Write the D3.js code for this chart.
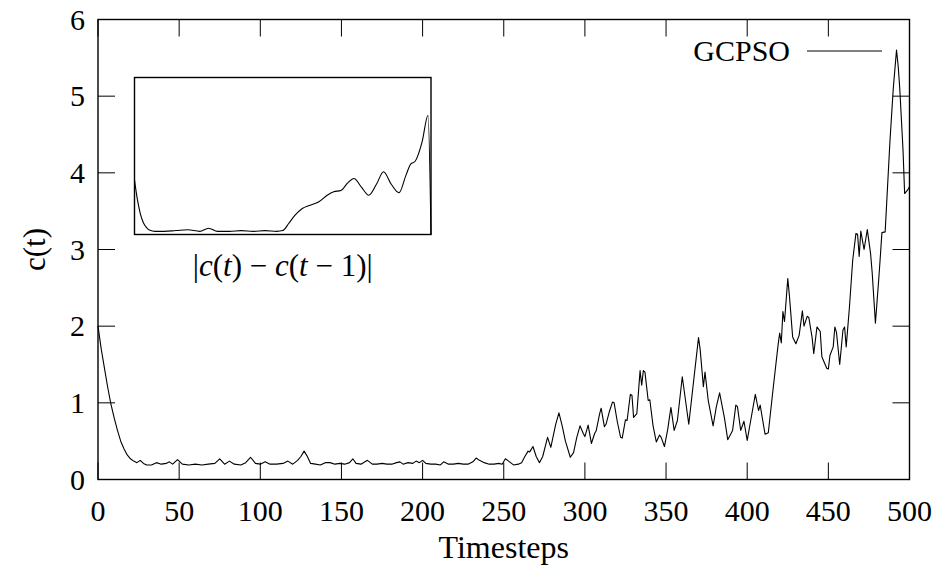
<!DOCTYPE html>
<html>
<head>
<meta charset="utf-8">
<script src="https://cdn.jsdelivr.net/npm/d3@7/dist/d3.min.js"></script>
<style>
  body { margin: 0; background: #fff; }
  text { font-family: "Liberation Serif", "DejaVu Serif", serif; fill: #000; }
</style>
</head>
<body>
<div id="chart"></div>
<script>
// Datos de la curva principal (timestep, c(t))
var steps = [0,2,4,6,8,10,12,14,16,18,20,22,24,26,28,30,33,36,39,42,44,46,49,52,56,60,64,68,72,75,78,81,84,88,91,94,97,100,
  103,106,110,114,117,120,123,125,127,129,131,134,137,140,143,146,149,152,155,157,159,162,166,169,172,175,178,181,184,186,188,
  191,194,196,198,200,202,205,208,211,213,216,219,222,225,228,231,233,235,238,241,244,247,249,251,253,256,259,261,263,265,266,
  268,270,272,274,277,279,282,284,286,288,291,293,295,297,299,300,302,304,306,307,309,310,312,313,315,317,318,320,322,323,325,
  326,328,329,330,332,334,335,336,337,339,340,342,344,346,347,349,351,353,355,357,360,364,370,371,373,374,376,379,381,383,386,
  388,391,393,394,396,398,400,402,405,407,408,411,413,416,419,420,421,422,423,425,426,428,430,432,434,435,437,438,440,441,443,
  445,446,449,450,451,453,454,455,457,459,460,461,463,465,467,468,469,470,472,474,476,477,479,481,482,483,485,488,490,492,493,
  494,496,497,499,500];
var gcpso = [2.0,1.7,1.45,1.2,0.98,0.8,0.64,0.5,0.4,0.32,0.27,0.24,0.22,0.25,0.21,0.19,0.19,0.22,0.2,0.21,0.23,0.2,0.26,0.2,
  0.19,0.2,0.19,0.2,0.21,0.27,0.2,0.24,0.2,0.19,0.22,0.29,0.21,0.2,
  0.23,0.2,0.2,0.21,0.24,0.2,0.25,0.3,0.37,0.3,0.21,0.2,0.19,0.22,0.22,0.2,0.21,0.2,0.22,0.27,0.21,0.2,0.25,0.2,0.2,0.21,0.2,
  0.2,0.22,0.23,0.2,
  0.22,0.21,0.24,0.22,0.25,0.21,0.2,0.2,0.19,0.23,0.2,0.2,0.21,0.2,0.2,0.23,0.28,0.25,0.22,0.2,0.2,0.21,0.2,0.27,0.24,0.19,0.2,
  0.22,0.3,0.37,0.36,
  0.43,0.3,0.22,0.3,0.55,0.42,0.72,0.87,0.7,0.5,0.29,0.35,0.55,0.7,0.6,0.56,0.71,0.47,0.6,0.64,0.85,0.93,0.69,0.72,0.88,1.01,
  1.0,0.75,0.55,0.54,0.78,
  0.77,1.11,1.1,0.81,0.86,1.42,1.23,1.42,1.4,1.03,1.04,0.7,0.49,0.58,0.55,0.43,0.65,0.94,0.64,0.77,1.34,0.72,1.85,1.7,1.21,1.4,
  1.03,0.7,0.95,1.13,0.8,
  0.52,0.64,0.97,0.95,0.64,0.76,0.51,0.75,1.11,0.9,0.97,0.59,0.61,1.19,1.75,1.91,1.78,2.19,2.06,2.62,2.4,1.86,1.77,1.88,2.2,
  2.0,2.13,2.11,1.85,1.64,1.99,
  1.93,1.6,1.45,1.44,1.62,1.73,1.99,1.92,1.5,1.95,1.99,1.73,2.25,2.86,3.21,3.2,2.91,3.24,3.0,3.26,2.95,2.7,2.04,2.6,2.9,3.22,
  3.23,4.43,5.1,5.6,5.4,
  5.1,4.3,3.73,3.78,3.82];

// Recuadro interior: |c(t) - c(t-1)| suavizado (escala relativa)
var insetSteps = [0,5,10,15,20,25,35,50,70,90,110,125,140,160,180,200,220,240,250,260,270,283,295,311,325,336,348,360,370,
  383,395,408,420,433,446,458,466,473,485,495,500];
var insetDiff = [0.346,0.22,0.13,0.075,0.045,0.028,0.02,0.02,0.025,0.03,0.02,0.04,0.02,0.02,0.025,0.02,0.025,0.02,0.025,0.07,
  0.12,0.166,0.185,0.208,0.25,0.272,0.28,0.33,0.357,0.3,0.25,0.32,0.40,0.32,0.266,0.38,0.45,0.465,0.59,0.76,0.0];

var xTicks = [0,50,100,150,200,250,300,350,400,450,500];
var yTicks = [0,1,2,3,4,5,6];
var seriesName = "GCPSO";

var W = 940, H = 570;
var margin = { top: 19.5, right: 30.5, bottom: 90.5, left: 98 };
var fontSize = 30, tickLen = 17;

var svg = d3.select("#chart").append("svg")
    .attr("width", W).attr("height", H);

var x = d3.scaleLinear().domain([0, 500]).range([margin.left, W - margin.right]);
var y = d3.scaleLinear().domain([0, 6]).range([H - margin.bottom, margin.top]);

// Ticks hacia adentro en los cuatro lados
var g = svg.append("g");
xTicks.forEach(function(t) {
  g.append("line").attr("x1", x(t)).attr("x2", x(t))
    .attr("y1", y(0)).attr("y2", y(0) - tickLen).attr("stroke", "#000").attr("stroke-width", 1);
  g.append("line").attr("x1", x(t)).attr("x2", x(t))
    .attr("y1", y(6)).attr("y2", y(6) + tickLen).attr("stroke", "#000").attr("stroke-width", 1);
  g.append("text").attr("x", x(t)).attr("y", y(0) + 41)
    .attr("text-anchor", "middle").style("font-size", fontSize + "px").text(t);
});
yTicks.forEach(function(v) {
  g.append("line").attr("x1", x(0)).attr("x2", x(0) + tickLen)
    .attr("y1", y(v)).attr("y2", y(v)).attr("stroke", "#000").attr("stroke-width", 1);
  g.append("line").attr("x1", x(500)).attr("x2", x(500) - tickLen)
    .attr("y1", y(v)).attr("y2", y(v)).attr("stroke", "#000").attr("stroke-width", 1);
  g.append("text").attr("x", x(0) - 13).attr("y", y(v) + 10)
    .attr("text-anchor", "end").style("font-size", fontSize + "px").text(v);
});

// Curva principal
var line = d3.line()
  .x(function(d, i) { return x(steps[i]); })
  .y(function(d) { return y(d); });
svg.append("path").datum(gcpso)
  .attr("d", line)
  .attr("fill", "none").attr("stroke", "#000").attr("stroke-width", 1.1)
  .attr("stroke-linejoin", "round");

// Marco
svg.append("rect")
  .attr("x", x(0)).attr("y", y(6))
  .attr("width", x(500) - x(0)).attr("height", y(0) - y(6))
  .attr("fill", "none").attr("stroke", "#000").attr("stroke-width", 1.4);

// Etiquetas de ejes
svg.append("text").attr("x", (x(0) + x(500)) / 2).attr("y", 558)
  .attr("text-anchor", "middle").style("font-size", "32px").text("Timesteps");
svg.append("text")
  .attr("transform", "translate(45," + ((y(0) + y(6)) / 2) + ") rotate(-90)")
  .attr("text-anchor", "middle").style("font-size", "31px").text("c(t)");

// Leyenda
var legY = 51;
svg.append("text").attr("x", 790).attr("y", legY + 10)
  .attr("text-anchor", "end").style("font-size", fontSize + "px").text(seriesName);
svg.append("line").attr("x1", 807).attr("x2", 882).attr("y1", legY).attr("y2", legY)
  .attr("stroke", "#000").attr("stroke-width", 1.1);

// Recuadro interior
var inset = { left: 134.5, right: 431, top: 77.5, bottom: 234.5 };
var xi = d3.scaleLinear().domain([0, 500]).range([inset.left, inset.right]);
var yi = d3.scaleLinear().domain([0, 1]).range([inset.bottom, inset.top]);
svg.append("rect")
  .attr("x", inset.left).attr("y", inset.top)
  .attr("width", inset.right - inset.left).attr("height", inset.bottom - inset.top)
  .attr("fill", "#fff").attr("stroke", "#000").attr("stroke-width", 1.4);
var lineInset = d3.line()
  .x(function(d, i) { return xi(insetSteps[i]); })
  .y(function(d) { return yi(d); })
  .curve(d3.curveMonotoneX);
svg.append("path").datum(insetDiff)
  .attr("d", lineInset)
  .attr("fill", "none").attr("stroke", "#000").attr("stroke-width", 1.1);

// Etiqueta matematica |c(t) − c(t − 1)|
var lab = svg.append("text").attr("x", (inset.left + inset.right) / 2).attr("y", 276)
  .attr("text-anchor", "middle").style("font-size", "31px");
[["|", false], ["c", true], ["(", false], ["t", true], [") \u2212 ", false], ["c", true], ["(", false], ["t", true], [" \u2212 1)|", false]]
  .forEach(function(p) {
    lab.append("tspan").style("font-style", p[1] ? "italic" : "normal").text(p[0]);
  });
</script>
</body>
</html>
